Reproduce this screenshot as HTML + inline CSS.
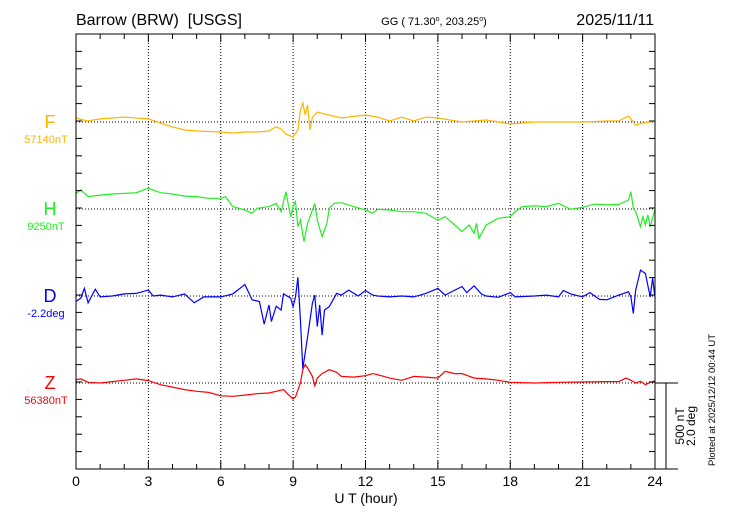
<!DOCTYPE html>
<html><head><meta charset="utf-8">
<style>
body{margin:0;background:#fff;}
svg{display:block;font-family:"Liberation Sans",sans-serif;}
</style></head>
<body>
<svg id="chart" width="730" height="520" viewBox="0 0 730 520" xmlns="http://www.w3.org/2000/svg">
<rect x="0" y="0" width="730" height="520" fill="#fff"/>
<text x="76" y="25" font-size="16" style="white-space:pre">Barrow (BRW)&#160;&#160;[USGS]</text>
<text x="434" y="25" font-size="11" text-anchor="middle">GG ( 71.30<tspan dy="-4" font-size="7">o</tspan><tspan dy="4">, 203.25</tspan><tspan dy="-4" font-size="7">o</tspan><tspan dy="4">)</tspan></text>
<text x="654" y="25" font-size="16" text-anchor="end">2025/11/11</text>
<g id="grid"></g>
<g id="series"></g>
<g id="axes"></g>
<text x="366" y="503" font-size="14" text-anchor="middle">U T (hour)</text>
<text transform="translate(684,426) rotate(-90)" font-size="12" text-anchor="middle">500 nT</text>
<text transform="translate(695,426) rotate(-90)" font-size="12" text-anchor="middle">2.0 deg</text>
<text transform="translate(715,400) rotate(-90)" font-size="9.5" text-anchor="middle">Plotted at 2025/12/12 00:44 UT</text>
</svg>
<script>
// chart data
const xTicks = [0,3,6,9,12,15,18,21,24];
const fHours = [0,0.3,0.5,1,2,3,3.5,4,4.5,5,6,6.5,7,7.5,8,8.3,8.5,8.7,9,9.2,9.3,9.4,9.5,9.6,9.7,9.8,10,10.3,11,12,12.5,13,13.5,14,14.5,15,15.5,16,17,18,19,20,21,22,22.5,22.9,23.2,23.5,24];
const fDev = [24,12,6,18,29,18,-6,-29,-47,-53,-59,-65,-59,-59,-53,-29,-41,-71,-88,-47,71,112,41,100,-47,29,59,47,24,41,29,6,29,6,29,24,12,0,12,-12,0,0,0,6,6,35,-18,-6,6];
const hHours = [0,0.2,0.5,1,1.5,2,2.5,3,3.5,4,4.5,5,5.5,6,6.2,6.5,7,7.3,7.5,8,8.3,8.5,8.7,8.9,9,9.1,9.2,9.3,9.45,9.6,9.8,9.9,10,10.2,10.4,10.5,10.7,11,11.5,12,12.3,12.5,13,13.5,14,14.5,15,15.3,15.7,16,16.3,16.5,16.6,16.7,17,17.5,18,18.2,18.5,19,19.5,20,20.5,21,21.5,22,22.5,22.9,23,23.1,23.2,23.4,23.5,23.6,23.7,23.8,24];
const hDev = [92,112,73,82,88,92,96,122,96,88,76,73,63,63,73,14,-6,-25,4,14,33,-16,102,-45,14,43,-104,-65,-192,-84,-6,33,-65,-163,-84,4,33,37,14,-6,-25,-2,-6,-16,-16,-25,-65,-45,-94,-133,-94,-143,-84,-173,-94,-55,-45,-16,14,18,14,33,-2,10,29,24,27,53,102,4,-16,-104,-45,-94,-35,-104,-2];
const dHours = [0,0.2,0.35,0.5,0.8,1,1.5,2,2.5,3,3.2,3.5,4,4.5,4.9,5.3,6,6.5,7,7.3,7.6,7.8,8,8.1,8.3,8.5,8.6,8.9,9,9.1,9.2,9.3,9.4,9.6,9.8,9.9,10,10.1,10.2,10.3,10.5,10.8,11,11.3,11.7,12,12.3,12.5,13,13.5,14,14.5,15,15.3,15.7,16,16.2,16.5,16.8,17,17.5,18,18.2,19,19.5,20,20.2,20.5,21,21.3,21.7,22,22.5,22.9,23,23.1,23.2,23.4,23.6,23.8,23.9,24];
const dDev = [-0.13,-0.05,0.18,-0.16,0.16,-0.02,0,0.05,0.06,0.14,0,0.02,-0.02,0.05,-0.16,-0.02,-0.02,0.05,0.27,-0.09,-0.13,-0.66,-0.21,-0.6,-0.24,-0.33,0.05,-0.05,-0.25,-0.02,0.44,-0.56,-1.71,-0.96,-0.17,0.02,-0.72,-0.21,-0.92,-0.33,-0.25,0.06,0.02,0.14,0,0.13,0.02,0,-0.02,0,-0.02,0.06,0.18,0.02,0.14,0.22,0.08,0.24,0.05,0,-0.03,0.08,-0.02,0,0.02,-0.02,0.13,0.05,-0.02,0.08,-0.08,-0.09,0.02,0.1,-0.02,-0.41,0.14,0.61,0.53,-0.02,0.42,-0.03];
const zHours = [0,0.2,0.5,1,1.5,2,2.5,3,3.5,4,4.5,5,5.5,6,6.5,7,7.5,8,8.3,8.6,8.8,9,9.1,9.3,9.4,9.5,9.6,9.8,9.9,10,10.2,10.5,10.8,11,11.5,12,12.3,12.5,13,13.5,14,14.5,15,15.3,15.7,16,16.5,17,17.5,18,19,20,21,22,22.5,22.8,23,23.2,23.4,23.6,23.8,24];
const zDev = [20,24,4,0,8,16,24,14,-10,-24,-39,-49,-55,-75,-78,-71,-63,-59,-49,-39,-69,-94,-82,0,78,108,88,39,-16,29,55,78,63,39,35,43,55,49,29,16,39,35,29,69,55,55,29,24,16,4,0,4,6,8,8,29,16,0,10,-10,4,12];

const NS='http://www.w3.org/2000/svg';
const L=76,R=655,T=34,B=469;
const xs=h=>L+(R-L)*h/24;
const pxPerNT=85/500, pxPerDeg=85/2.0;
function mk(tag,attrs,parent){const e=document.createElementNS(NS,tag);for(const k in attrs)e.setAttribute(k,attrs[k]);parent.appendChild(e);return e;}
const grid=document.getElementById('grid'),ser=document.getElementById('series'),axes=document.getElementById('axes');

xTicks.slice(1,-1).forEach(h=>{
  const g=mk('line',{x1:xs(h),x2:xs(h),y1:T,y2:B,stroke:'#000','stroke-width':1,'stroke-dasharray':'1,2'},grid);
  
  
});
const comps=[
 {name:'F',hours:fHours,vals:fDev,base:122,scale:pxPerNT,color:'#ffb400',label:'57140nT'},
 {name:'H',hours:hHours,vals:hDev,base:209,scale:pxPerNT,color:'#22ee22',label:'9250nT'},
 {name:'D',hours:dHours,vals:dDev,base:296,scale:pxPerDeg,color:'#0000ff',label:'-2.2deg'},
 {name:'Z',hours:zHours,vals:zDev,base:383,scale:pxPerNT,color:'#ff0000',label:'56380nT'}
];
comps.forEach(c=>{
  const bl=mk('line',{x1:L,x2:R,y1:c.base,y2:c.base,stroke:'#000','stroke-width':1,'stroke-dasharray':'1,2'},grid);
  
  
  const pts=c.hours.map((h,i)=>xs(h).toFixed(1)+','+(c.base-c.vals[i]*c.scale).toFixed(1)).join(' ');
  const p=mk('polyline',{points:pts,fill:'none',stroke:c.color,'stroke-width':1.2},ser);
  
  
  const t=mk('text',{x:50,y:c.base+6,'font-size':18,fill:c.color,'text-anchor':'middle'},axes);
  t.textContent=c.name;
  
  
  const t2=mk('text',{x:46,y:c.base+21,'font-size':11,fill:c.color,'text-anchor':'middle'},axes);
  t2.textContent=c.label;
  
  
});
const fr=mk('rect',{x:L,y:T,width:R-L,height:B-T,fill:'none',stroke:'#000','stroke-width':1},axes);


for(let i=1;i<25;i++){
  const y=T+(B-T)*i/25;
  mk('line',{x1:L,x2:L+6,y1:y,y2:y,stroke:'#000'},axes);
  mk('line',{x1:R-6,x2:R,y1:y,y2:y,stroke:'#000'},axes);
}
for(let h=1;h<24;h++){
  const len=h%3===0?8:5;
  mk('line',{x1:xs(h),x2:xs(h),y1:T,y2:T+len,stroke:'#000'},axes);
  mk('line',{x1:xs(h),x2:xs(h),y1:B,y2:B-len,stroke:'#000'},axes);
}
xTicks.forEach(h=>{
  const t=mk('text',{x:xs(h),y:486,'font-size':14,'text-anchor':'middle'},axes);
  t.textContent=h;
  
  
});
mk('line',{x1:R,x2:678,y1:383,y2:383,stroke:'#000'},axes);
mk('line',{x1:R,x2:678,y1:B,y2:B,stroke:'#000'},axes);
const sb=mk('line',{x1:666,x2:666,y1:383,y2:B,stroke:'#000'},axes);


</script>
</body></html>
